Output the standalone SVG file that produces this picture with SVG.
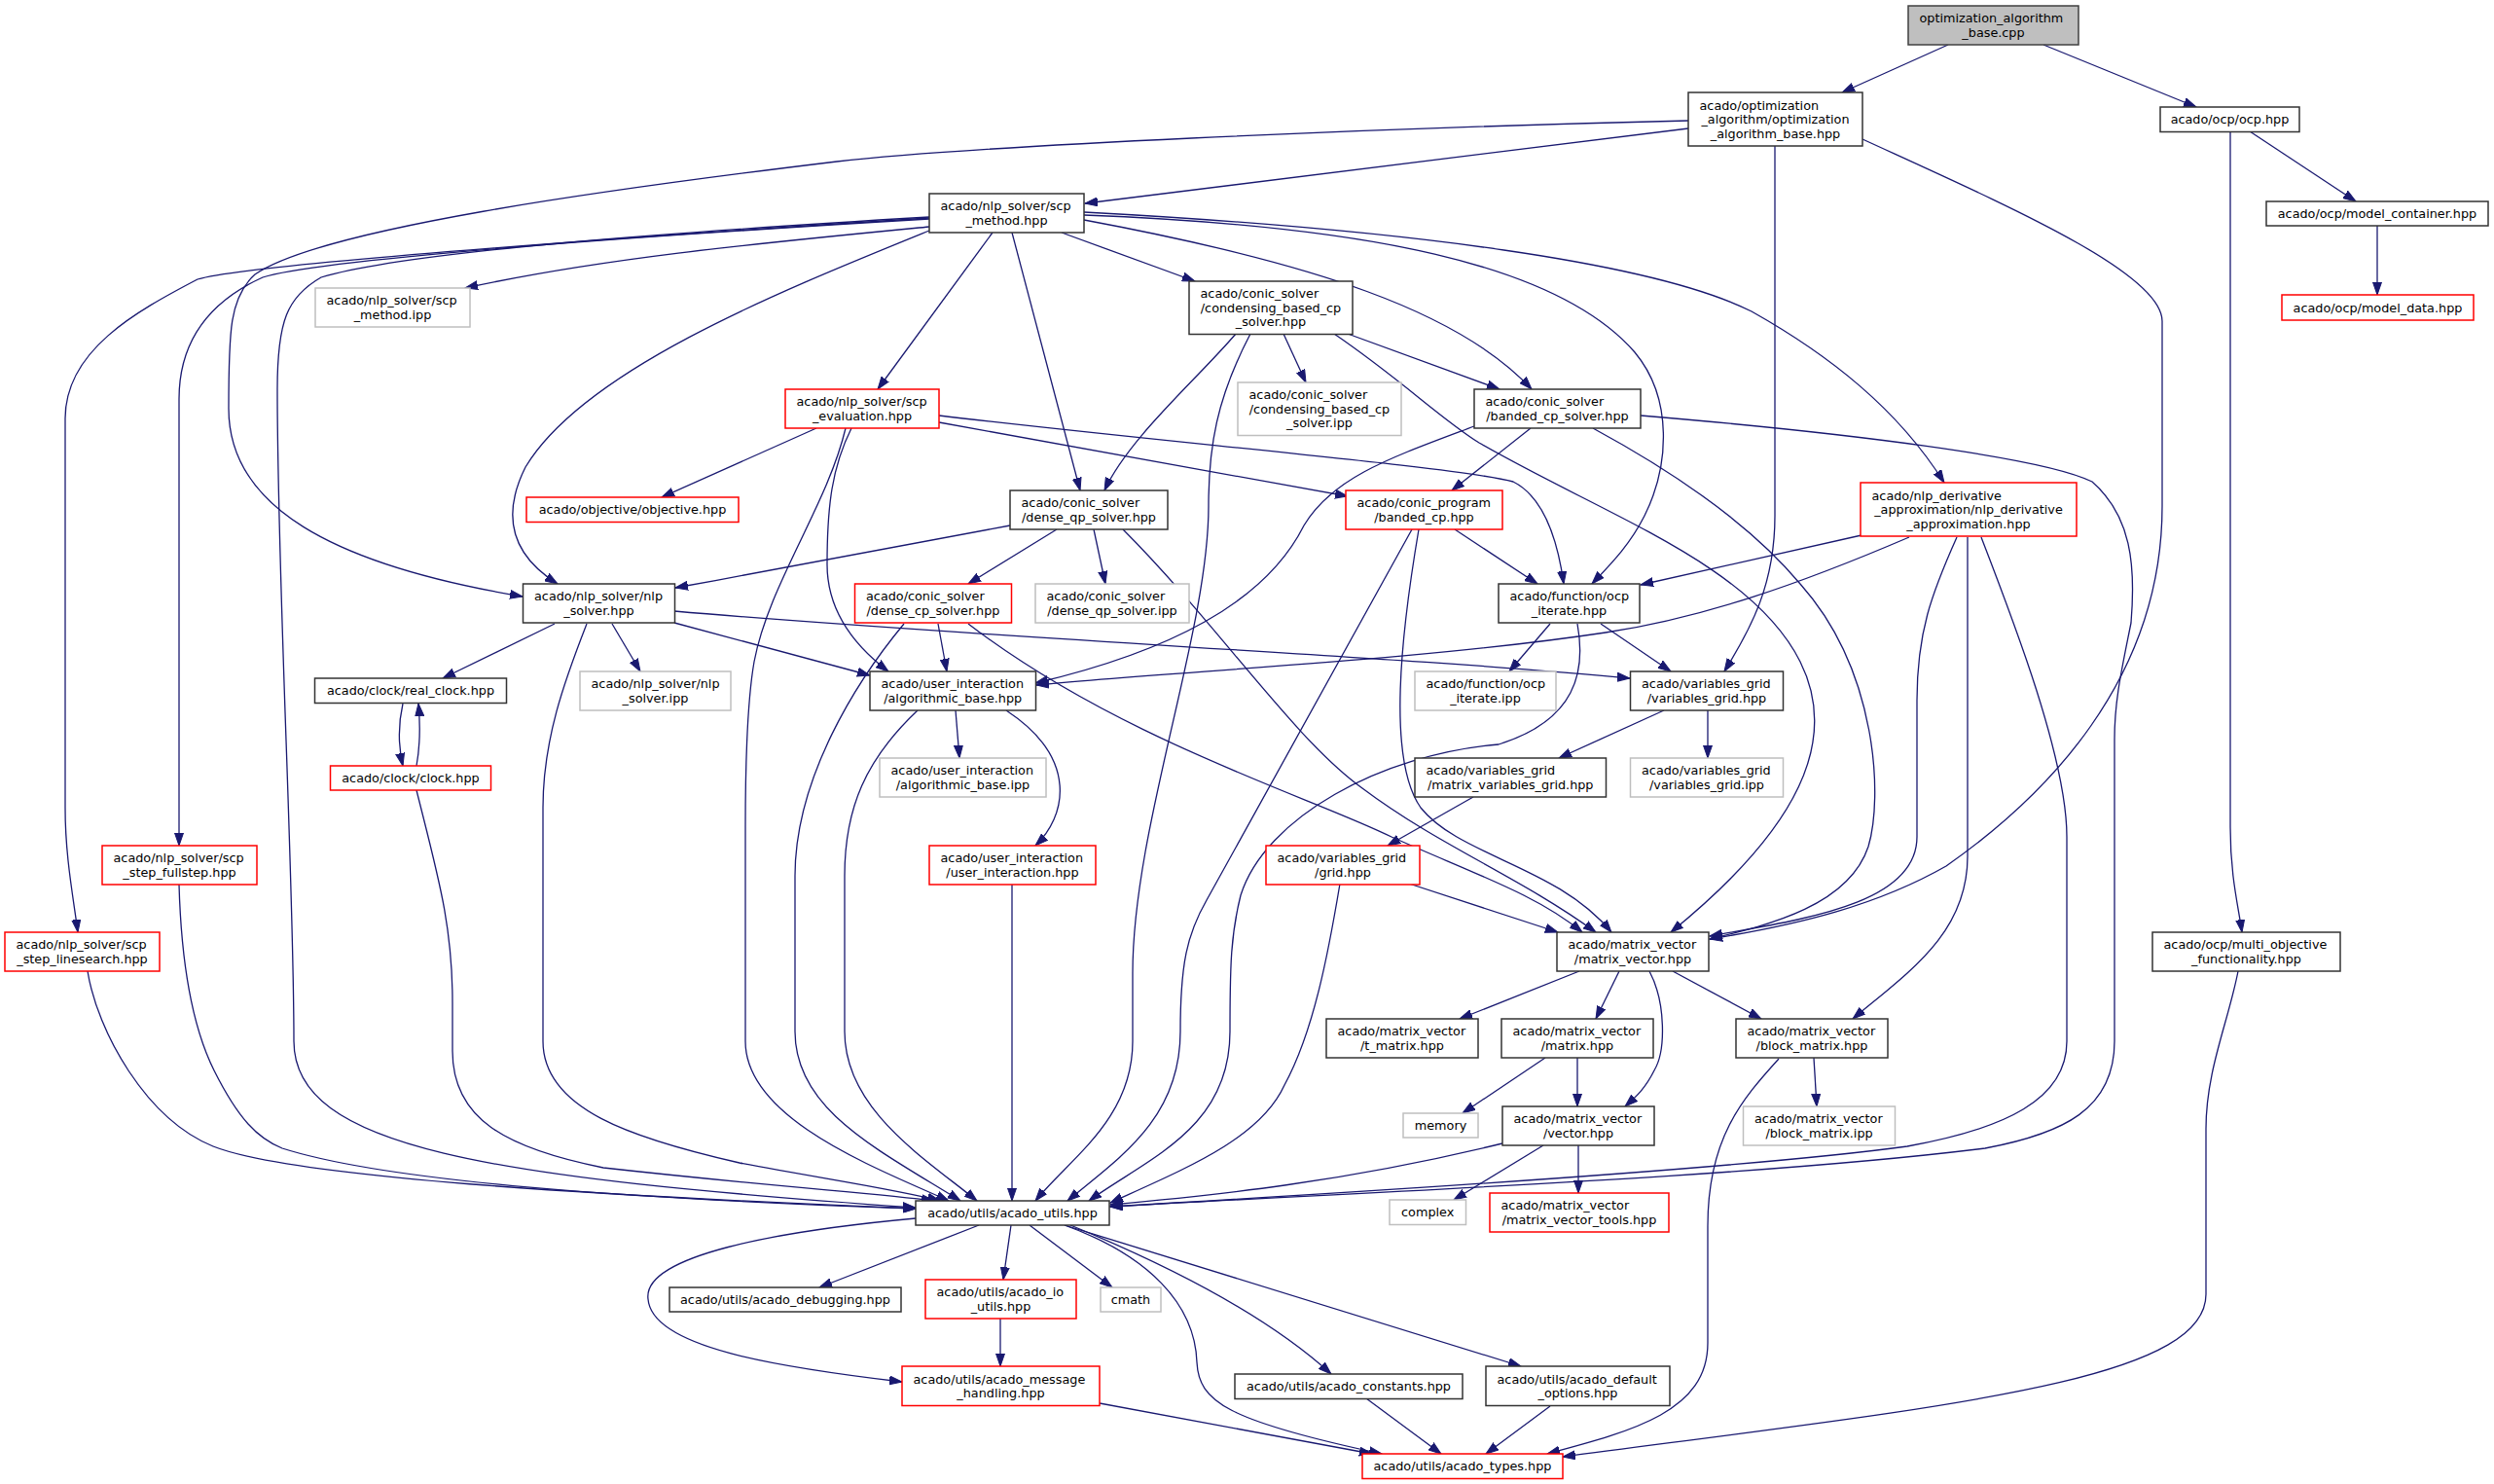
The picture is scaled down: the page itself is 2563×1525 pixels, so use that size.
<svg xmlns="http://www.w3.org/2000/svg" width="2563" height="1525" viewBox="0 0 2563 1525">
<style>
rect{stroke-width:1.5}
.b{fill:#fff;stroke:#333}
.r{fill:#fff;stroke:#f00}
.g{fill:#fff;stroke:#bfbfbf}
.k{fill:#bfbfbf;stroke:#404040}
text{font-family:"DejaVu Sans","Liberation Sans",sans-serif;font-size:12.8px;fill:#000;text-anchor:middle}
text.s{text-anchor:start}
#edges path{fill:none;stroke:#191970;stroke-width:1.3;marker-end:url(#a)}
</style>
<defs>
<marker id="a" markerWidth="14" markerHeight="10" refX="13" refY="5" orient="auto" markerUnits="userSpaceOnUse"><path d="M0,0.5 L13,5 L0,9.5 z" fill="#191970" stroke="#191970" stroke-width="1"/></marker>
</defs>
<rect width="2563" height="1525" fill="#fff"/>
<g id="edges">
<path d="M2002,46 L1893,95"/>
<path d="M2100,46 L2257,110"/>
<path d="M1735,132 L1115,209"/>
<path d="M1735,124 C1400,132 1000,150 860,166 C620,195 330,235 262,282 C236,305 235,340 235,420 C235,520 340,580 537,613"/>
<path d="M1824,150 L1824,530 C1824,600 1800,645 1772,690"/>
<path d="M1914,143 C2060,210 2222,280 2222,330 L2222,520 C2222,700 2100,820 2000,890 C1930,930 1850,950 1757,965"/>
<path d="M2312,135 L2421,207"/>
<path d="M2292,135 L2292,850 C2292,900 2300,930 2304,958"/>
<path d="M2443,232 L2443,303"/>
<path d="M2300,998 C2290,1050 2267,1100 2267,1160 L2267,1330 C2267,1420 2000,1445 1606,1497"/>
<path d="M955,233 C780,250 620,265 478,296"/>
<path d="M1020,239 L902,400"/>
<path d="M1040,239 L1110,504"/>
<path d="M1091,239 L1228,289"/>
<path d="M1114,226 C1350,270 1500,320 1574,400"/>
<path d="M1114,221 C1400,232 1600,270 1680,362 C1720,410 1715,480 1690,530 C1675,560 1655,580 1636,600"/>
<path d="M1114,218 C1450,236 1700,270 1800,320 C1880,365 1950,420 1998,496"/>
<path d="M955,237 C800,300 600,380 540,480 C515,530 525,570 573,600"/>
<path d="M955,223 C700,238 420,258 330,285 C295,305 285,330 285,400 C285,600 302,900 302,1070 C302,1180 500,1210 941,1241"/>
<path d="M955,225 C700,240 330,265 270,285 C215,310 184,350 184,410 L184,869"/>
<path d="M955,224 C700,240 260,270 203,287 C140,320 67,360 67,430 L67,830 C67,880 75,920 80,958"/>
<path d="M839,440 L680,511"/>
<path d="M965,434 L1385,510"/>
<path d="M965,427 C1200,455 1500,480 1555,495 C1585,510 1600,550 1607,600"/>
<path d="M875,440 C855,480 850,520 850,580 C850,630 880,665 913,690"/>
<path d="M869,440 C850,520 790,600 775,680 C768,720 766,780 766,850 L766,1070 C766,1150 900,1200 975,1234"/>
<path d="M1270,343 C1230,390 1160,450 1135,504"/>
<path d="M1319,343 L1342,393"/>
<path d="M1385,343 L1541,400"/>
<path d="M1285,343 C1250,410 1242,460 1242,520 C1242,650 1164,850 1164,1000 L1164,1070 C1164,1150 1100,1190 1064,1234"/>
<path d="M1371,343 C1440,390 1480,430 1520,455 C1650,530 1800,580 1850,680 C1890,760 1850,850 1717,958"/>
<path d="M1573,440 L1492,504"/>
<path d="M1515,438 C1430,470 1370,490 1340,540 C1300,620 1200,670 1064,702"/>
<path d="M1637,440 C1720,485 1800,540 1850,600 C1930,690 1935,820 1920,870 C1900,930 1820,950 1757,965"/>
<path d="M1686,427 C1900,445 2100,470 2150,495 C2190,530 2195,580 2190,640 C2180,690 2173,720 2173,760 L2173,1070 C2173,1140 2120,1165 2040,1180 C1800,1210 1400,1225 1141,1240"/>
<path d="M2036,552 C2070,640 2124,780 2124,860 L2124,1070 C2124,1130 2060,1160 1960,1178 C1800,1200 1400,1225 1141,1240"/>
<path d="M2022,552 L2022,880 C2022,960 1960,1000 1904,1047"/>
<path d="M2011,552 C1985,610 1970,650 1970,720 L1970,860 C1970,930 1850,945 1757,962"/>
<path d="M1913,550 L1686,601"/>
<path d="M1962,552 C1850,600 1750,635 1650,650 C1450,680 1200,690 1065,704"/>
<path d="M1086,544 L995,600"/>
<path d="M1124,544 L1136,600"/>
<path d="M1038,540 C900,565 800,585 694,604"/>
<path d="M1154,544 C1250,640 1330,760 1400,810 C1480,870 1560,900 1640,958"/>
<path d="M964,641 L973,690"/>
<path d="M995,641 C1150,760 1350,820 1430,860 C1520,900 1580,920 1626,958"/>
<path d="M929,641 C880,700 817,800 817,900 L817,1060 C817,1140 900,1180 987,1234"/>
<path d="M570,641 L455,697"/>
<path d="M629,641 L658,690"/>
<path d="M693,640 L894,694"/>
<path d="M693,628 C1000,655 1450,675 1675,697"/>
<path d="M603,641 C580,700 558,760 558,830 L558,1070 C558,1140 650,1170 760,1195 C850,1212 920,1222 966,1234"/>
<path d="M414,723 C409,745 409,765 414,787"/>
<path d="M428,787 C432,765 432,745 430,723"/>
<path d="M428,812 C450,900 465,950 465,1030 L465,1080 C465,1150 520,1180 620,1200 C800,1220 900,1226 960,1234"/>
<path d="M982,730 L986,779"/>
<path d="M1034,730 C1110,780 1095,840 1064,869"/>
<path d="M943,730 C890,780 868,830 868,900 L868,1060 C868,1140 950,1190 1004,1234"/>
<path d="M1040,909 L1040,1234"/>
<path d="M1495,544 L1580,600"/>
<path d="M1451,544 L1240,925 C1220,960 1213,990 1213,1060 C1213,1150 1150,1190 1097,1234"/>
<path d="M1458,544 C1440,650 1425,780 1460,830 C1500,880 1600,890 1656,958"/>
<path d="M1593,641 L1551,690"/>
<path d="M1645,641 L1717,690"/>
<path d="M1621,641 C1630,690 1620,740 1540,765 C1420,775 1300,840 1275,920 C1265,960 1264,990 1264,1060 C1264,1160 1180,1190 1119,1234"/>
<path d="M1710,730 L1602,779"/>
<path d="M1755,730 L1755,779"/>
<path d="M1514,819 L1426,869"/>
<path d="M1448,908 L1601,958"/>
<path d="M1377,908 C1365,980 1350,1060 1320,1115 C1295,1170 1220,1200 1141,1236"/>
<path d="M1623,998 L1500,1047"/>
<path d="M1664,998 L1640,1047"/>
<path d="M1695,998 C1712,1030 1712,1080 1700,1100 C1690,1120 1680,1128 1670,1137"/>
<path d="M1719,998 L1810,1047"/>
<path d="M1588,1087 L1503,1144"/>
<path d="M1621,1087 L1621,1137"/>
<path d="M1544,1175 C1380,1215 1250,1228 1141,1238"/>
<path d="M1586,1177 L1494,1233"/>
<path d="M1622,1177 L1622,1226"/>
<path d="M1864,1087 L1867,1137"/>
<path d="M1828,1088 C1790,1130 1755,1170 1755,1260 L1755,1380 C1755,1450 1680,1470 1590,1494"/>
<path d="M1006,1259 L842,1323"/>
<path d="M1039,1259 L1031,1315"/>
<path d="M1058,1259 L1143,1323"/>
<path d="M941,1252 C800,1265 660,1290 666,1335 C670,1385 800,1405 927,1420"/>
<path d="M1094,1259 C1180,1290 1228,1340 1230,1400 C1232,1440 1260,1460 1420,1494"/>
<path d="M1100,1259 C1200,1300 1300,1350 1368,1412"/>
<path d="M1094,1259 L1563,1404"/>
<path d="M1028,1355 L1028,1404"/>
<path d="M1130,1442 L1410,1494"/>
<path d="M1404,1437 L1481,1494"/>
<path d="M1593,1445 L1527,1494"/>
<path d="M90,998 C100,1060 150,1150 219,1178 C300,1210 600,1228 941,1242"/>
<path d="M184,909 C186,980 195,1050 220,1100 C245,1150 265,1170 290,1180 C400,1215 650,1232 941,1242"/>
</g>
<g id="n1"><rect class="k" x="1961" y="6" width="175" height="40"/><text class="s" x="1972.5" y="23.2">optimization_algorithm</text><text x="2048.5" y="37.7">_base.cpp</text></g>
<g id="n2"><rect class="b" x="1735" y="95" width="179" height="55"/><text class="s" x="1746.5" y="112.5">acado/optimization</text><text x="1824.5" y="127">_algorithm/optimization</text><text x="1824.5" y="141.5">_algorithm_base.hpp</text></g>
<g id="n3"><rect class="b" x="2220" y="110" width="143" height="25.5"/><text x="2291.5" y="127.2">acado/ocp/ocp.hpp</text></g>
<g id="n4"><rect class="b" x="2329" y="207" width="228" height="25"/><text x="2443" y="224">acado/ocp/model_container.hpp</text></g>
<g id="n5"><rect class="r" x="2345" y="303" width="197" height="26"/><text x="2443.5" y="320.5">acado/ocp/model_data.hpp</text></g>
<g id="n6"><rect class="b" x="955" y="199" width="159" height="40"/><text class="s" x="966.5" y="216.2">acado/nlp_solver/scp</text><text x="1034.5" y="230.7">_method.hpp</text></g>
<g id="n7"><rect class="g" x="324" y="296" width="159" height="40"/><text class="s" x="335.5" y="313.2">acado/nlp_solver/scp</text><text x="403.5" y="327.7">_method.ipp</text></g>
<g id="n8"><rect class="b" x="1222" y="289" width="168" height="54.5"/><text class="s" x="1233.5" y="306.2">acado/conic_solver</text><text x="1306" y="320.7">/condensing_based_cp</text><text x="1306" y="335.2">_solver.hpp</text></g>
<g id="n9"><rect class="g" x="1272" y="393" width="168" height="54.5"/><text class="s" x="1283.5" y="410.2">acado/conic_solver</text><text x="1356" y="424.7">/condensing_based_cp</text><text x="1356" y="439.2">_solver.ipp</text></g>
<g id="n10"><rect class="b" x="1515" y="400" width="171" height="40"/><text class="s" x="1526.5" y="417.2">acado/conic_solver</text><text x="1600.5" y="431.7">/banded_cp_solver.hpp</text></g>
<g id="n11"><rect class="r" x="807" y="400" width="158" height="40"/><text class="s" x="818.5" y="417.2">acado/nlp_solver/scp</text><text x="886" y="431.7">_evaluation.hpp</text></g>
<g id="n12"><rect class="r" x="1912" y="496" width="222" height="55"/><text class="s" x="1923.5" y="513.5">acado/nlp_derivative</text><text x="2023" y="528">_approximation/nlp_derivative</text><text x="2023" y="542.5">_approximation.hpp</text></g>
<g id="n13"><rect class="r" x="541" y="511" width="218" height="25.5"/><text x="650" y="528.2">acado/objective/objective.hpp</text></g>
<g id="n14"><rect class="b" x="1038" y="504" width="162" height="40"/><text class="s" x="1049.5" y="521.2">acado/conic_solver</text><text x="1119" y="535.7">/dense_qp_solver.hpp</text></g>
<g id="n15"><rect class="r" x="1383" y="504" width="161" height="40"/><text class="s" x="1394.5" y="521.2">acado/conic_program</text><text x="1463.5" y="535.7">/banded_cp.hpp</text></g>
<g id="n16"><rect class="b" x="537.5" y="600" width="156" height="40"/><text class="s" x="549" y="617.2">acado/nlp_solver/nlp</text><text x="615.5" y="631.7">_solver.hpp</text></g>
<g id="n17"><rect class="r" x="878.5" y="600" width="161" height="40"/><text class="s" x="890" y="617.2">acado/conic_solver</text><text x="959" y="631.7">/dense_cp_solver.hpp</text></g>
<g id="n18"><rect class="g" x="1064" y="600" width="158" height="40"/><text class="s" x="1075.5" y="617.2">acado/conic_solver</text><text x="1143" y="631.7">/dense_qp_solver.ipp</text></g>
<g id="n19"><rect class="b" x="1540" y="600" width="145" height="40"/><text class="s" x="1551.5" y="617.2">acado/function/ocp</text><text x="1612.5" y="631.7">_iterate.hpp</text></g>
<g id="n20"><rect class="b" x="323.5" y="697" width="197" height="25.5"/><text x="422" y="714.2">acado/clock/real_clock.hpp</text></g>
<g id="n21"><rect class="g" x="596" y="690" width="155" height="40"/><text class="s" x="607.5" y="707.2">acado/nlp_solver/nlp</text><text x="673.5" y="721.7">_solver.ipp</text></g>
<g id="n22"><rect class="b" x="894" y="690" width="170.5" height="40"/><text class="s" x="905.5" y="707.2">acado/user_interaction</text><text x="979.2" y="721.7">/algorithmic_base.hpp</text></g>
<g id="n23"><rect class="g" x="1454" y="690" width="145" height="40"/><text class="s" x="1465.5" y="707.2">acado/function/ocp</text><text x="1526.5" y="721.7">_iterate.ipp</text></g>
<g id="n24"><rect class="b" x="1675.5" y="690" width="157" height="40"/><text class="s" x="1687" y="707.2">acado/variables_grid</text><text x="1754" y="721.7">/variables_grid.hpp</text></g>
<g id="n25"><rect class="r" x="339.5" y="787" width="165" height="25"/><text x="422" y="804">acado/clock/clock.hpp</text></g>
<g id="n26"><rect class="g" x="904" y="779" width="171" height="40"/><text class="s" x="915.5" y="796.2">acado/user_interaction</text><text x="989.5" y="810.7">/algorithmic_base.ipp</text></g>
<g id="n27"><rect class="b" x="1454" y="779" width="196.5" height="40"/><text class="s" x="1465.5" y="796.2">acado/variables_grid</text><text x="1552.2" y="810.7">/matrix_variables_grid.hpp</text></g>
<g id="n28"><rect class="g" x="1675.5" y="779" width="157" height="40"/><text class="s" x="1687" y="796.2">acado/variables_grid</text><text x="1754" y="810.7">/variables_grid.ipp</text></g>
<g id="n29"><rect class="r" x="105" y="869" width="159" height="40"/><text class="s" x="116.5" y="886.2">acado/nlp_solver/scp</text><text x="184.5" y="900.7">_step_fullstep.hpp</text></g>
<g id="n30"><rect class="r" x="955" y="869" width="171" height="40"/><text class="s" x="966.5" y="886.2">acado/user_interaction</text><text x="1040.5" y="900.7">/user_interaction.hpp</text></g>
<g id="n31"><rect class="r" x="1301" y="869" width="158" height="40"/><text class="s" x="1312.5" y="886.2">acado/variables_grid</text><text x="1380" y="900.7">/grid.hpp</text></g>
<g id="n32"><rect class="r" x="5" y="958" width="159" height="40"/><text class="s" x="16.5" y="975.2">acado/nlp_solver/scp</text><text x="84.5" y="989.7">_step_linesearch.hpp</text></g>
<g id="n33"><rect class="b" x="1600" y="958" width="156" height="40"/><text class="s" x="1611.5" y="975.2">acado/matrix_vector</text><text x="1678" y="989.7">/matrix_vector.hpp</text></g>
<g id="n34"><rect class="b" x="2212" y="958" width="193" height="40"/><text class="s" x="2223.5" y="975.2">acado/ocp/multi_objective</text><text x="2308.5" y="989.7">_functionality.hpp</text></g>
<g id="n35"><rect class="b" x="1363" y="1047" width="156" height="40"/><text class="s" x="1374.5" y="1064.2">acado/matrix_vector</text><text x="1441" y="1078.7">/t_matrix.hpp</text></g>
<g id="n36"><rect class="b" x="1543" y="1047" width="156" height="40"/><text class="s" x="1554.5" y="1064.2">acado/matrix_vector</text><text x="1621" y="1078.7">/matrix.hpp</text></g>
<g id="n37"><rect class="b" x="1784" y="1047" width="156" height="40"/><text class="s" x="1795.5" y="1064.2">acado/matrix_vector</text><text x="1862" y="1078.7">/block_matrix.hpp</text></g>
<g id="n38"><rect class="g" x="1442" y="1144" width="77" height="25"/><text x="1480.5" y="1161">memory</text></g>
<g id="n39"><rect class="b" x="1544" y="1137" width="156" height="40"/><text class="s" x="1555.5" y="1154.2">acado/matrix_vector</text><text x="1622" y="1168.7">/vector.hpp</text></g>
<g id="n40"><rect class="g" x="1791.5" y="1137" width="156" height="40"/><text class="s" x="1803" y="1154.2">acado/matrix_vector</text><text x="1869.5" y="1168.7">/block_matrix.ipp</text></g>
<g id="n41"><rect class="b" x="941" y="1234" width="199" height="25"/><text x="1040.5" y="1251">acado/utils/acado_utils.hpp</text></g>
<g id="n42"><rect class="g" x="1428" y="1233" width="78.5" height="25.5"/><text x="1467.2" y="1250.2">complex</text></g>
<g id="n43"><rect class="r" x="1531" y="1226" width="184" height="40"/><text class="s" x="1542.5" y="1243.2">acado/matrix_vector</text><text x="1623" y="1257.7">/matrix_vector_tools.hpp</text></g>
<g id="n44"><rect class="b" x="688" y="1323" width="238" height="25"/><text x="807" y="1340">acado/utils/acado_debugging.hpp</text></g>
<g id="n45"><rect class="r" x="951" y="1315" width="155" height="40"/><text class="s" x="962.5" y="1332.2">acado/utils/acado_io</text><text x="1028.5" y="1346.7">_utils.hpp</text></g>
<g id="n46"><rect class="g" x="1131" y="1323" width="62" height="25"/><text x="1162" y="1340">cmath</text></g>
<g id="n47"><rect class="r" x="927" y="1404" width="203" height="40.5"/><text class="s" x="938.5" y="1421.5">acado/utils/acado_message</text><text x="1028.5" y="1436">_handling.hpp</text></g>
<g id="n48"><rect class="b" x="1269" y="1412" width="234" height="25.5"/><text x="1386" y="1429.2">acado/utils/acado_constants.hpp</text></g>
<g id="n49"><rect class="b" x="1527" y="1404" width="189" height="40.5"/><text class="s" x="1538.5" y="1421.5">acado/utils/acado_default</text><text x="1621.5" y="1436">_options.hpp</text></g>
<g id="n50"><rect class="r" x="1400" y="1494" width="206" height="25.5"/><text x="1503" y="1511.2">acado/utils/acado_types.hpp</text></g>
</svg>
